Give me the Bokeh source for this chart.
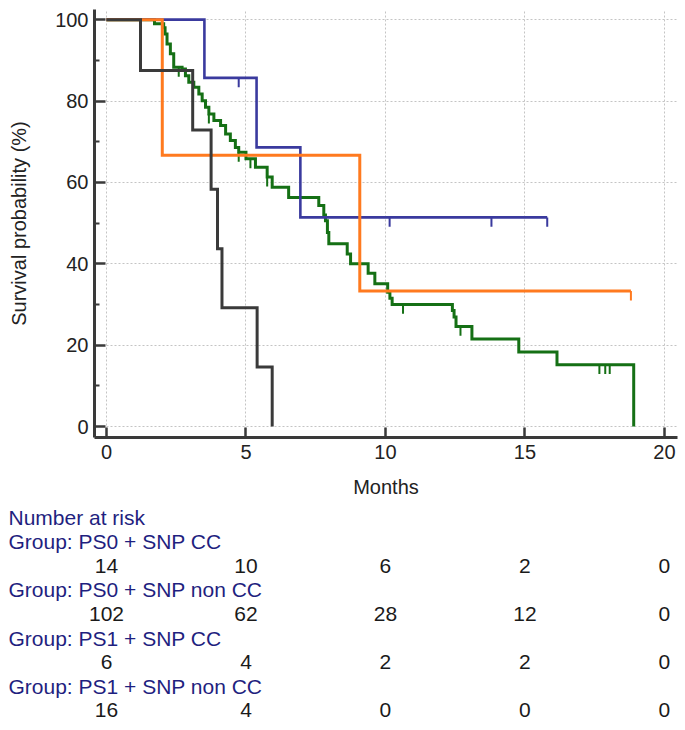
from bokeh.plotting import figure
from bokeh.models import Range1d, FixedTicker
from bokeh.embed import file_html
from bokeh.resources import INLINE
from bokeh.core.properties import value
import numpy as np

FONT = "Liberation Sans"

# ---------------- data ----------------
# Kaplan-Meier curves: event times (months) and survival (%) after each step
blue_times = [3.51, 5.38, 6.95]
blue_surv = [85.7, 68.6, 51.4]
blue_end = 15.8
blue_censor = [4.74, 10.15, 13.8, 15.8]

green_times = [1.72, 2.05, 2.10, 2.17, 2.29, 2.41, 2.71, 2.83, 2.95, 3.13,
               3.31, 3.43, 3.55, 3.67, 3.85, 4.09, 4.27, 4.44, 4.62, 4.74,
               5.00, 5.34, 5.76, 5.94, 6.53, 7.61, 7.79, 7.85, 7.92, 7.97,
               8.63, 8.75, 9.38, 9.62, 10.08, 10.16, 10.24, 12.40, 12.46, 12.53,
               13.10, 14.78, 16.15, 18.90]
green_surv = [99.0, 98.0, 96.5, 94.0, 91.6, 88.3, 87.9, 86.2, 84.6, 83.4,
              81.7, 80.1, 78.5, 76.8, 75.2, 74.0, 71.9, 70.3, 68.6, 67.4,
              65.8, 63.7, 61.3, 58.8, 56.3, 54.3, 52.0, 50.6, 47.7, 44.9,
              42.4, 40.0, 37.7, 35.1, 33.0, 31.5, 30.0, 28.5, 26.9, 24.6,
              21.5, 18.3, 15.2, 0.0]
green_end = 18.90
green_censor = [2.59, 3.67, 4.74, 5.16, 5.76, 10.63, 12.69, 17.67, 17.88, 18.04]

orange_times = [2.0, 9.08]
orange_surv = [66.7, 33.3]
orange_end = 18.8
orange_censor = [18.8]

black_times = [1.22, 3.09, 3.75, 3.98, 4.14, 5.40, 5.94]
black_surv = [87.5, 72.9, 58.3, 43.7, 29.2, 14.6, 0.0]
black_end = 5.94
black_censor = []

x_ticks = [0, 5, 10, 15, 20]
y_ticks = [0, 20, 40, 60, 80, 100]
y_minor = [10, 30, 50, 70, 90]

risk_title = "Number at risk"
group_names = ["Group: PS0 + SNP CC", "Group: PS0 + SNP non CC",
               "Group: PS1 + SNP CC", "Group: PS1 + SNP non CC"]
risk_times = [0, 5, 10, 15, 20]
risk_counts = [[14, 10, 6, 2, 0],
               [102, 62, 28, 12, 0],
               [6, 4, 2, 2, 0],
               [16, 4, 0, 0, 0]]

# ---------------- styles / layout ----------------
COL_BLUE = "#3a3a9e"
COL_GREEN = "#157015"
COL_ORANGE = "#ff7a1f"
COL_BLACK = "#3a3a3a"
COL_AXIS = "#3a3a3a"
COL_NAVY = "#1f1f80"
TICK_LEN = 2.3  # censor tick length in % units

W = 680
FRAME_L, FRAME_R = 94, 677
X0, X1 = -0.43, 20.47
PX_PER_X = (FRAME_R - FRAME_L) / (X1 - X0)

# ---------------- KM plot ----------------
p = figure(width=W, height=505,
           x_range=Range1d(X0, X1), y_range=Range1d(-2.7, 102.5),
           output_backend="svg", toolbar_location=None,
           min_border_left=FRAME_L, min_border_right=W - FRAME_R,
           min_border_top=9, min_border_bottom=68)
p.outline_line_color = None
p.background_fill_color = "white"

p.xaxis.ticker = FixedTicker(ticks=x_ticks)
p.yaxis.ticker = FixedTicker(ticks=y_ticks, minor_ticks=y_minor)
p.xgrid.ticker = FixedTicker(ticks=x_ticks)
p.ygrid.ticker = FixedTicker(ticks=y_ticks)
for g in (p.xgrid, p.ygrid):
    g.grid_line_color = "#c4c4c4"
    g.grid_line_dash = "2 2"
    g.grid_line_width = 1

for ax in (p.xaxis, p.yaxis):
    ax.axis_line_width = 3
    ax.axis_line_color = COL_AXIS
    ax.major_tick_line_color = COL_AXIS
    ax.major_tick_line_width = 2.5
    ax.major_tick_out = 0
    ax.major_label_text_font = FONT
    ax.major_label_text_font_size = "20px"
    ax.major_label_text_color = "#222222"
    ax.axis_label_text_font = FONT
    ax.axis_label_text_font_size = "20px"
    ax.axis_label_text_font_style = "normal"
    ax.axis_label_text_color = "#222222"

p.xaxis.major_tick_in = 10
p.xaxis.minor_tick_line_color = None
p.xaxis.major_label_standoff = 7
p.xaxis.axis_label = "Months"
p.xaxis.axis_label_standoff = 14

p.yaxis.major_tick_in = 11
p.yaxis.minor_tick_in = 5
p.yaxis.minor_tick_out = 0
p.yaxis.minor_tick_line_color = COL_AXIS
p.yaxis.minor_tick_line_width = 2
p.yaxis.major_label_standoff = 6
p.yaxis.axis_label = "Survival probability (%)"
p.yaxis.axis_label_standoff = 22


def km_xy(times, surv, end):
    xs = [0.0] + list(times) + [end]
    ys = [100.0] + list(surv) + [surv[-1]]
    return xs, ys


def surv_at(times, surv, t):
    s = 100.0
    for ti, si in zip(times, surv):
        if ti <= t:
            s = si
    return s


curves = [
    (green_times, green_surv, green_end, green_censor, COL_GREEN, 3),
    (blue_times, blue_surv, blue_end, blue_censor, COL_BLUE, 2.6),
    (orange_times, orange_surv, orange_end, orange_censor, COL_ORANGE, 3),
    (black_times, black_surv, black_end, black_censor, COL_BLACK, 3),
]
for times, surv, end, cens, col, lw in curves:
    xs, ys = km_xy(times, surv, end)
    p.step(xs, ys, mode="after", line_color=col, line_width=lw,
           line_join="miter")
    if cens:
        cy = np.array([surv_at(times, surv, c) for c in cens])
        p.segment(x0=cens, y0=cy, x1=cens, y1=cy - TICK_LEN,
                  line_color=col, line_width=2)

# ---------------- number-at-risk table (separate root below) ----------------
T_H = 217
ROW_PX = 24.1        # px between rows
ROW0_PX = 12         # centre of first row from the top of the table
LABEL_PX = 8         # left edge of group labels, px from page left
tx0 = X0 - FRAME_L / PX_PER_X
tx1 = X1 + (W - FRAME_R) / PX_PER_X
t = figure(width=W, height=T_H,
           x_range=Range1d(tx0, tx1),
           y_range=Range1d((T_H - ROW0_PX) / ROW_PX, -ROW0_PX / ROW_PX),
           output_backend="svg", toolbar_location=None,
           x_axis_location=None, y_axis_location=None,
           min_border_left=0, min_border_right=0, min_border_top=0,
           min_border_bottom=0)
t.outline_line_color = None
t.grid.visible = False

label_x = tx0 + LABEL_PX / PX_PER_X
t.text(x=[label_x], y=[0], text=[risk_title], text_font=value(FONT),
       text_font_size="21px", text_color=COL_NAVY, text_align="left",
       text_baseline="middle")
for i, (name, counts) in enumerate(zip(group_names, risk_counts)):
    t.text(x=[label_x], y=[1 + 2 * i], text=[name], text_font=value(FONT),
           text_font_size="21px", text_color=COL_NAVY, text_align="left",
           text_baseline="middle")
    t.text(x=risk_times, y=[2 + 2 * i] * len(risk_times),
           text=[str(c) for c in counts], text_font=value(FONT),
           text_font_size="21px", text_color="#1a1a1a", text_align="center",
           text_baseline="middle")

open("out.html", "w").write(file_html((p, t), INLINE))
